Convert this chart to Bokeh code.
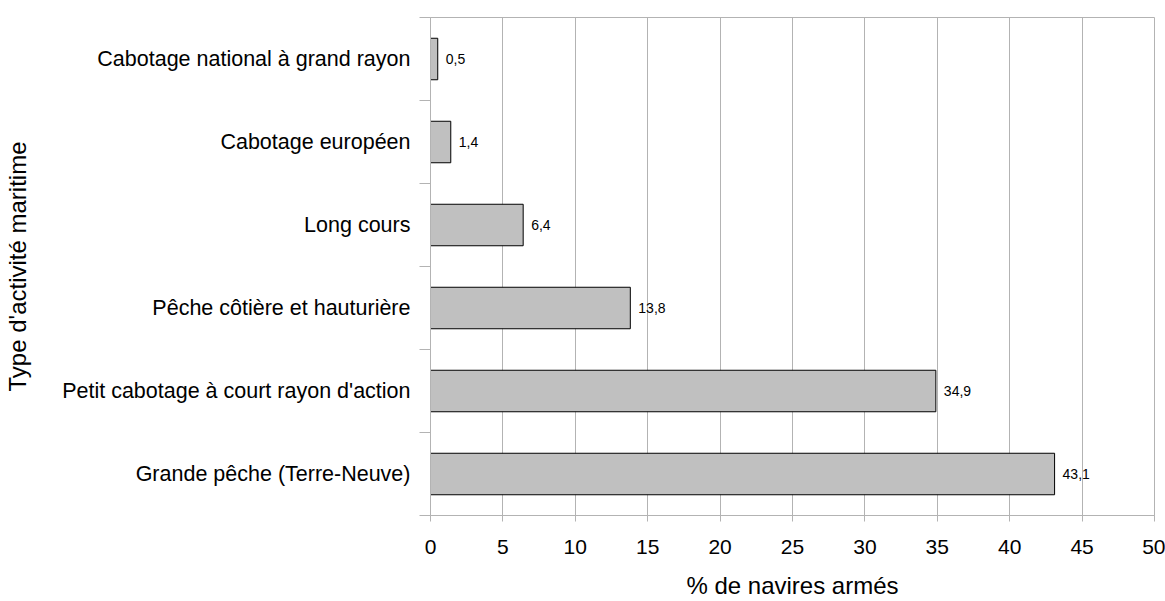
from bokeh.plotting import figure
from bokeh.models import ColumnDataSource, FixedTicker, Range1d
from bokeh.core.properties import value
from bokeh.embed import file_html
from bokeh.resources import INLINE

categories = ["Grande pêche (Terre-Neuve)", "Petit cabotage à court rayon d'action",
              "Pêche côtière et hauturière", "Long cours", "Cabotage européen",
              "Cabotage national à grand rayon"]
values = [43.1, 34.9, 13.8, 6.4, 1.4, 0.5]
x_ticks = [0, 5, 10, 15, 20, 25, 30, 35, 40, 45, 50]

FONT = "Liberation Sans"
GRID = "#b3b3b3"

pos = [i + 0.5 for i in range(len(categories))]
src = ColumnDataSource(dict(y=pos, v=values,
                            lab=[f"{v:.1f}".replace(".", ",") for v in values]))

p = figure(width=1165, height=601, output_backend="svg", toolbar_location=None,
           x_range=Range1d(0, 50), y_range=Range1d(0, len(categories)),
           min_border_left=430, min_border_right=11, min_border_top=17,
           min_border_bottom=86)

p.hbar(y="y", left=0, right="v", height=0.5, source=src,
       fill_color="#c0c0c0", line_color="black", line_width=1)
p.text(x="v", y="y", text="lab", source=src, x_offset=8, text_baseline="middle",
       text_font=value(FONT), text_font_size="14px", text_color="black")

p.outline_line_color = GRID
p.ygrid.grid_line_color = None
p.xgrid.grid_line_color = GRID
p.xgrid.ticker = FixedTicker(ticks=x_ticks)

xa = p.xaxis[0]
xa.ticker = FixedTicker(ticks=x_ticks)
xa.axis_line_color = GRID
xa.major_tick_line_color = GRID
xa.major_tick_in = 0
xa.major_tick_out = 6
xa.minor_tick_line_color = None
xa.major_label_text_font = FONT
xa.major_label_text_font_size = "21px"
xa.major_label_text_color = "black"
xa.major_label_standoff = 18
xa.axis_label = "% de navires armés"
xa.axis_label_text_font = FONT
xa.axis_label_text_font_size = "24px"
xa.axis_label_text_font_style = "normal"
xa.axis_label_text_color = "black"
xa.axis_label_standoff = 15

ya = p.yaxis[0]
ya.ticker = FixedTicker(ticks=pos, minor_ticks=list(range(len(categories) + 1)))
ya.major_label_overrides = {pv: c for pv, c in zip(pos, categories)}
ya.axis_line_color = GRID
ya.major_tick_line_color = None
ya.major_tick_in = 0
ya.major_tick_out = 0
ya.minor_tick_line_color = GRID
ya.minor_tick_in = 0
ya.minor_tick_out = 11
ya.major_label_text_font = FONT
ya.major_label_text_font_size = "21.5px"
ya.major_label_text_color = "black"
ya.major_label_standoff = 9
ya.axis_label = "Type d'activité maritime"
ya.axis_label_text_font = FONT
ya.axis_label_text_font_size = "24px"
ya.axis_label_text_font_style = "normal"
ya.axis_label_text_color = "black"
ya.axis_label_standoff = 28

open("out.html", "w").write(file_html(p, INLINE))
